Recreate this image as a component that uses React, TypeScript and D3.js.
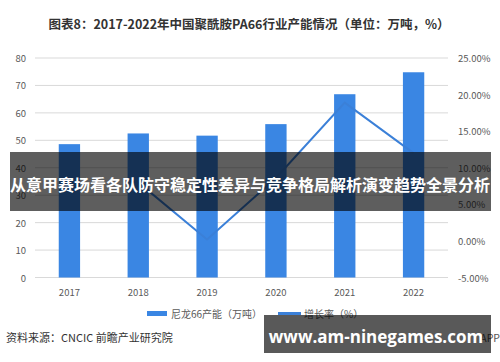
import React from "react";
import * as d3 from "d3";

const years = ["2017", "2018", "2019", "2020", "2021", "2022"];
const capacity = [48.6, 52.5, 51.7, 55.9, 66.8, 74.8];
const growth: (number | null)[] = [null, 8.0, 0.2, 8.6, 18.9, 12.0];
const leftTicks = [0, 10, 20, 30, 40, 50, 60, 70, 80];
const rightTicks = [-5, 0, 5, 10, 15, 20, 25];

const title = "图表8：2017-2022年中国聚酰胺PA66行业产能情况（单位：万吨，%）";
const legendBar = "尼龙66产能（万吨）";
const legendLine = "增长率（%）";
const source = "资料来源：CNCIC 前瞻产业研究院";
const banner = "从意甲赛场看各队防守稳定性差异与竞争格局解析演变趋势全景分析";
const url = "www.am-ninegames.com";
const appMark = "APP";

const W = 500;
const H = 362;
const FONT = "'Noto Sans CJK SC', 'Noto Sans', sans-serif";
const BLUE = "#3a86e3";
const LINE = "#3b80d8";
const GRAY = "#595959";

export default function App() {
  const x = d3
    .scaleBand<string>()
    .domain(years)
    .range([35, 448])
    .paddingInner(0.69)
    .paddingOuter(0.345);
  const yL = d3.scaleLinear().domain([0, 80]).range([277.5, 58]);
  const yR = d3.scaleLinear().domain([-5, 25]).range([277.5, 58]);

  const pts = years
    .map((yr, i) => ({ yr, v: growth[i] }))
    .filter((d) => d.v !== null) as { yr: string; v: number }[];
  const line = d3
    .line<{ yr: string; v: number }>()
    .x((d) => (x(d.yr) as number) + x.bandwidth() / 2)
    .y((d) => yR(d.v));

  return (
    <svg
      width={W}
      height={H}
      style={{ position: "absolute", left: 0, top: 0, background: "#fff" }}
      fontFamily={FONT}
    >
      <rect x={0} y={0} width={W} height={H} fill="#fff" />
      <text
        x={249}
        y={23}
        textAnchor="middle"
        dominantBaseline="central"
        fontSize={12.5}
        fontWeight="bold"
        fill="#333"
      >
        {title}
      </text>

      {leftTicks.map((t) => (
        <g key={"g" + t}>
          <line x1={35} x2={448} y1={yL(t)} y2={yL(t)} stroke="#d9d9d9" strokeWidth={1} />
          <text
            x={26}
            y={yL(t)}
            textAnchor="end"
            dominantBaseline="central"
            fontSize={9.5}
            fill={GRAY}
          >
            {t}
          </text>
        </g>
      ))}
      {rightTicks.map((t) => (
        <text
          key={"r" + t}
          x={458}
          y={yR(t)}
          dominantBaseline="central"
          fontSize={9.5}
          fill={GRAY}
        >
          {t.toFixed(2) + "%"}
        </text>
      ))}

      {years.map((yr, i) => (
        <rect
          key={"b" + yr}
          x={x(yr)}
          y={yL(capacity[i])}
          width={x.bandwidth()}
          height={yL(0) - yL(capacity[i])}
          fill={BLUE}
        />
      ))}
      <path d={line(pts) || ""} fill="none" stroke={LINE} strokeWidth={2} />

      {years.map((yr) => (
        <text
          key={"x" + yr}
          x={(x(yr) as number) + x.bandwidth() / 2}
          y={292}
          textAnchor="middle"
          dominantBaseline="central"
          fontSize={9.5}
          fill={GRAY}
        >
          {yr}
        </text>
      ))}

      <rect x={147} y={311} width={20} height={5} fill={BLUE} />
      <text x={171} y={313.5} dominantBaseline="central" fontSize={10} fill={GRAY}>
        {legendBar}
      </text>
      <line x1={278} x2={301} y1={313.5} y2={313.5} stroke={LINE} strokeWidth={3} />
      <text x={304} y={313.5} dominantBaseline="central" fontSize={10} fill={GRAY}>
        {legendLine}
      </text>

      <text x={6} y={337} dominantBaseline="central" fontSize={11} fill="#333">
        {source}
      </text>
      <text x={500} y={337} textAnchor="end" dominantBaseline="central" fontSize={10.5} fill="#555">
        {appMark}
      </text>

      <rect x={10} y={152} width={481} height={59} fill="rgba(0,0,0,0.63)" />
      <text
        x={250}
        y={184}
        textAnchor="middle"
        dominantBaseline="central"
        fontSize={16}
        fontWeight="bold"
        fill="#fff"
      >
        {banner}
      </text>

      <rect x={264} y={315} width={227} height={38} fill="rgba(0,0,0,0.65)" />
      <text
        x={376}
        y={336}
        textAnchor="middle"
        dominantBaseline="central"
        fontSize={17}
        fontWeight="bold"
        fill="#fff"
        fontFamily="'Open Sans', 'Noto Sans', sans-serif"
      >
        {url}
      </text>
    </svg>
  );
}
